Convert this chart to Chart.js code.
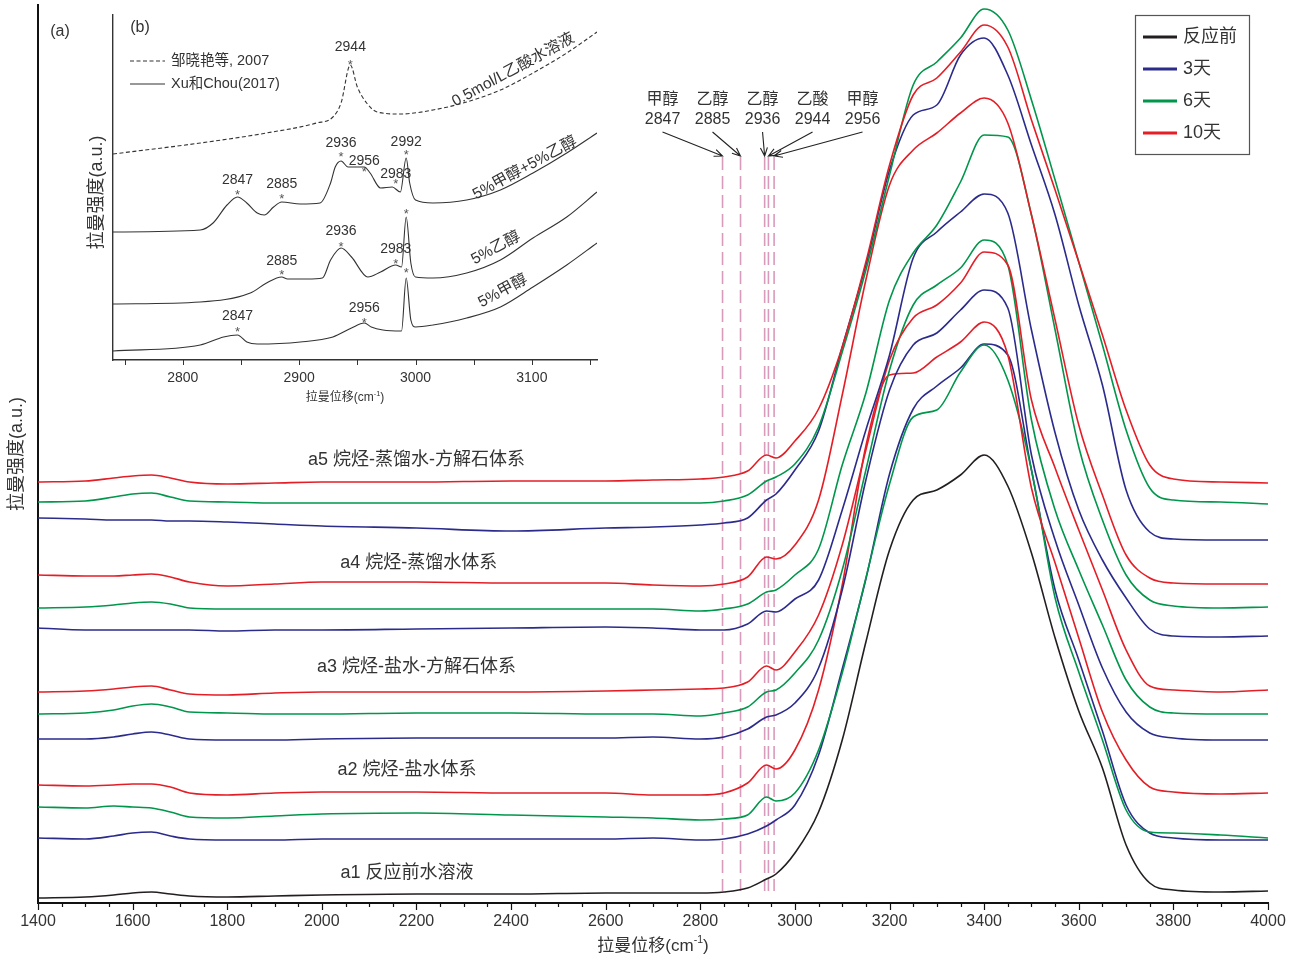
<!DOCTYPE html>
<html>
<head>
<meta charset="utf-8">
<script src="https://cdn.jsdelivr.net/npm/chart.js@4.4.1/dist/chart.umd.min.js"></script>
<style>
  html, body { margin: 0; padding: 0; background: #fff; }
  #wrap { position: relative; width: 1303px; height: 960px; }
  #main, #inset { position: absolute; left: 0; top: 0; }
</style>
</head>
<body>
<div id="wrap">
  <canvas id="main" width="1303" height="960"></canvas>
  <canvas id="inset" width="620" height="420"></canvas>
</div>
<script>
// ---- main panel (a): Raman shift grid and spectra (offset intensity, a.u.) ----
const wavenumbers = [1400, 1500, 1560, 1600, 1640, 1680, 1720, 1800, 1900, 2000, 2200, 2400, 2600, 2700, 2800, 2850, 2900, 2940, 2960, 3000, 3050, 3100, 3150, 3200, 3250, 3300, 3350, 3400, 3450, 3500, 3550, 3600, 3650, 3700, 3750, 3800, 3900, 4000]

const a1Before = [5, 6, 8, 10, 11, 9, 7, 6, 7, 8, 9, 9, 10, 10, 10, 11, 15, 24, 29, 50, 91, 163, 261, 353, 403, 413, 428, 448, 417, 350, 265, 192, 135, 58, 20, 13, 11, 12]
const a2Blue = [65, 64, 67, 70, 71, 67, 64, 63, 63, 64, 64, 64, 64, 65, 63, 64, 69, 77, 83, 98, 148, 234, 324, 429, 494, 517, 535, 559, 548, 433, 313, 243, 172, 98, 70, 65, 63, 63]
const a2Green = [96, 95, 97, 96, 95, 91, 86, 85, 87, 89, 90, 88, 86, 85, 83, 84, 88, 106, 102, 110, 153, 230, 325, 419, 486, 493, 531, 558, 523, 433, 305, 231, 163, 93, 71, 70, 68, 65]
const a2Red = [118, 117, 118, 119, 119, 116, 110, 108, 110, 111, 111, 110, 110, 108, 108, 110, 120, 138, 134, 153, 213, 318, 457, 528, 530, 546, 561, 581, 548, 415, 340, 265, 191, 143, 116, 111, 109, 110]
const a3Blue = [164, 164, 166, 169, 171, 168, 164, 163, 163, 164, 165, 165, 165, 166, 164, 166, 174, 186, 188, 200, 235, 313, 423, 513, 558, 570, 593, 613, 595, 448, 363, 298, 235, 191, 170, 165, 163, 163]
const a3Green = [189, 190, 193, 197, 199, 196, 191, 190, 189, 189, 190, 190, 189, 189, 187, 190, 196, 211, 213, 230, 263, 333, 433, 533, 598, 618, 635, 663, 638, 483, 393, 333, 278, 223, 196, 190, 189, 189]
const a3Red = [211, 212, 214, 216, 217, 213, 209, 208, 210, 211, 211, 211, 212, 213, 214, 215, 221, 237, 233, 251, 288, 358, 453, 543, 585, 598, 620, 651, 638, 503, 435, 373, 313, 253, 217, 213, 211, 213]
const a4Blue = [275, 273, 273, 273, 273, 273, 273, 272, 273, 273, 274, 275, 276, 275, 273, 273, 279, 292, 291, 304, 323, 393, 473, 548, 645, 671, 691, 709, 690, 573, 470, 393, 343, 305, 274, 267, 266, 267]
const a4Green = [295, 296, 298, 300, 301, 299, 295, 294, 294, 294, 294, 294, 294, 294, 292, 294, 299, 311, 313, 328, 354, 438, 510, 603, 650, 678, 721, 768, 766, 688, 573, 456, 383, 328, 303, 297, 295, 296]
const a4Red = [328, 327, 327, 328, 329, 326, 321, 317, 319, 321, 321, 320, 320, 318, 317, 319, 326, 346, 344, 358, 403, 508, 623, 718, 753, 770, 790, 805, 780, 688, 583, 478, 408, 348, 325, 320, 319, 319]
const a5Blue = [385, 384, 383, 383, 383, 382, 382, 381, 379, 377, 375, 372, 375, 376, 378, 380, 385, 403, 409, 433, 472, 556, 638, 733, 788, 798, 848, 865, 828, 758, 688, 598, 518, 413, 371, 364, 363, 363]
const a5Green = [401, 402, 406, 409, 410, 406, 402, 401, 400, 400, 400, 400, 400, 400, 400, 402, 408, 422, 426, 439, 476, 551, 633, 728, 818, 841, 865, 894, 873, 803, 723, 641, 558, 473, 415, 403, 401, 399]
const a5Red = [421, 422, 425, 427, 428, 425, 421, 419, 420, 421, 421, 422, 422, 423, 424, 426, 432, 448, 445, 462, 494, 556, 641, 738, 808, 825, 851, 878, 856, 783, 713, 641, 568, 493, 438, 424, 421, 420]

const groupLabels = ['a1 反应前水溶液', 'a2 烷烃-盐水体系', 'a3 烷烃-盐水-方解石体系', 'a4 烷烃-蒸馏水体系', 'a5 烷烃-蒸馏水-方解石体系']
const groupLabelW = [2180, 2180, 2200, 2205, 2200]
const groupLabelV = [30, 133, 236, 340, 443]

const markerW = [2847, 2885, 2936, 2944, 2956]
const markerName = ['甲醇', '乙醇', '乙醇', '乙酸', '甲醇']
const markerTopV = 746
const markerBottomV = 12

const legendLabels = ['反应前', '3天', '6天', '10天']

// ---- inset (b): reference spectra ----
const aceticX = [2740, 2815, 2872, 2915, 2929, 2936, 2944, 2950, 2958, 2967, 2987, 3015, 3044, 3073, 3101, 3130, 3156]
const aceticY = [206, 217, 227, 237, 243, 257, 295, 273, 257, 248, 246, 250, 258, 270, 287, 307, 328]
const mixX = [2740, 2815, 2826, 2838, 2847, 2855, 2864, 2870, 2878, 2885, 2901, 2918, 2927, 2931, 2936, 2942, 2956, 2961, 2970, 2980, 2987, 2992, 2995, 3000, 3015, 3044, 3073, 3101, 3130, 3156]
const mixY = [128, 130, 137, 155, 163, 157, 147, 145, 153, 158, 156, 157, 177, 193, 199, 193, 193, 187, 172, 173, 168, 202, 177, 160, 157, 160, 170, 187, 207, 227]
const ethanolX = [2740, 2815, 2858, 2872, 2885, 2890, 2907, 2920, 2927, 2936, 2945, 2959, 2970, 2983, 2988, 2992, 2996, 3000, 3015, 3044, 3073, 3101, 3130, 3156]
const ethanolY = [56, 58, 67, 77, 83, 81, 81, 82, 100, 112, 103, 83, 88, 95, 93, 143, 97, 83, 82, 87, 100, 122, 143, 168]
const methanolX = [2740, 2815, 2835, 2847, 2855, 2864, 2901, 2929, 2945, 2956, 2962, 2972, 2988, 2992, 2996, 3000, 3015, 3044, 3073, 3101, 3130, 3156]
const methanolY = [9, 15, 23, 25, 18, 16, 18, 23, 32, 37, 33, 30, 29, 82, 40, 33, 35, 42, 53, 73, 95, 117]

const peakW = [2944, 2847, 2885, 2936, 2956, 2983, 2992, 2885, 2936, 2983, 2992, 2847, 2956, 2992]
const peakStarV = [298, 168, 164, 206, 191, 179, 208, 88, 116, 99, 149, 31, 40, 90]
const peakLabelV = [313, 180, 176, 217, 199, 186, 218, 99, 129, 111, null, 44, 52, null]
const peakText = ['2944', '2847', '2885', '2936', '2956', '2983', '2992', '2885', '2936', '2983', '', '2847', '2956', '']

const curveNames = ['0.5mol/L乙酸水溶液', '5%甲醇+5%乙醇', '5%乙醇', '5%甲醇']
const curveNameW = [3084, 3094, 3069, 3075]
const curveNameV = [290, 192, 112, 69]

// ---- styles ----
const FONT = "'Liberation Sans', 'Noto Sans CJK SC', sans-serif"
const TEXT = '#333'
const BLACK = '#231f20'
const BLUE = '#2b2b8c'
const GREEN = '#00964b'
const RED = '#e41e26'

function text(ctx, str, x, y, size, opts = {}) {
  ctx.save()
  ctx.font = `${size}px ${opts.family || FONT}`
  ctx.fillStyle = opts.color || TEXT
  ctx.textAlign = opts.align || 'center'
  ctx.textBaseline = 'middle'
  ctx.translate(x, y)
  if (opts.rotate) ctx.rotate(opts.rotate)
  ctx.fillText(str, 0, 0)
  ctx.restore()
}

// title like 拉曼位移(cm⁻¹) with a real superscript
function unitTitle(ctx, x, y, size, rotate) {
  const parts = [['拉曼位移(cm', size, 0], ['-1', size * 0.62, -size * 0.35], [')', size, 0]]
  ctx.save()
  ctx.translate(x, y)
  if (rotate) ctx.rotate(rotate)
  let total = 0
  parts.forEach(p => { ctx.font = `${p[1]}px ${FONT}`; total += ctx.measureText(p[0]).width })
  let cx = -total / 2
  ctx.fillStyle = TEXT
  ctx.textBaseline = 'middle'
  ctx.textAlign = 'left'
  parts.forEach(p => {
    ctx.font = `${p[1]}px ${FONT}`
    ctx.fillText(p[0], cx, p[2])
    cx += ctx.measureText(p[0]).width
  })
  ctx.restore()
}

function arrow(ctx, x1, y1, x2, y2) {
  const a = Math.atan2(y2 - y1, x2 - x1)
  ctx.beginPath()
  ctx.moveTo(x1, y1)
  ctx.lineTo(x2, y2)
  ctx.moveTo(x2 - 9 * Math.cos(a - 0.4), y2 - 9 * Math.sin(a - 0.4))
  ctx.lineTo(x2, y2)
  ctx.lineTo(x2 - 9 * Math.cos(a + 0.4), y2 - 9 * Math.sin(a + 0.4))
  ctx.stroke()
}

const mainSeries = [
  [a5Red, RED], [a5Green, GREEN], [a5Blue, BLUE],
  [a4Red, RED], [a4Green, GREEN], [a4Blue, BLUE],
  [a3Red, RED], [a3Green, GREEN], [a3Blue, BLUE],
  [a2Red, RED], [a2Green, GREEN], [a2Blue, BLUE],
  [a1Before, BLACK]
]

const mainDecor = {
  id: 'mainDecor',
  beforeDatasetsDraw(chart) {
    const { ctx, scales: { x, y } } = chart
    ctx.save()
    ctx.strokeStyle = '#d99bbb'
    ctx.lineWidth = 1.6
    ctx.setLineDash([13, 6])
    markerW.forEach(w => {
      const px = x.getPixelForValue(w)
      ctx.beginPath()
      ctx.moveTo(px, y.getPixelForValue(markerTopV))
      ctx.lineTo(px, y.getPixelForValue(markerBottomV))
      ctx.stroke()
    })
    ctx.restore()
  },
  afterDraw(chart) {
    const { ctx, chartArea: area, scales: { x, y } } = chart

    // ticks, pointing out of the plot
    ctx.save()
    ctx.strokeStyle = '#111'
    ctx.lineWidth = 1.2
    for (let v = 1400; v <= 4000; v += 50) {
      const px = Math.round(x.getPixelForValue(v)) + 0.5
      const len = v % 200 === 0 ? 7 : 4
      ctx.beginPath()
      ctx.moveTo(px, area.bottom)
      ctx.lineTo(px, area.bottom + len)
      ctx.stroke()
    }
    ctx.restore()

    unitTitle(ctx, (area.left + area.right) / 2, 946, 17)
    text(ctx, '拉曼强度(a.u.)', 17, (area.top + area.bottom) / 2, 18, { rotate: -Math.PI / 2 })
    text(ctx, '(a)', area.left + 22, area.top + 27, 16)

    groupLabels.forEach((s, i) => {
      text(ctx, s, x.getPixelForValue(groupLabelW[i]), y.getPixelForValue(groupLabelV[i]), 18)
    })

    // peak assignments with arrows
    const topY = y.getPixelForValue(markerTopV)
    const firstX = x.getPixelForValue(markerW[0]) - 60
    ctx.save()
    ctx.strokeStyle = '#222'
    ctx.lineWidth = 1.1
    markerW.forEach((w, i) => {
      const cx = firstX + i * 50
      text(ctx, markerName[i], cx, topY - 57, 16)
      text(ctx, String(w), cx, topY - 37, 16)
      arrow(ctx, cx, topY - 25, x.getPixelForValue(w), topY - 1)
    })
    ctx.restore()

    // legend box
    const lx = 1135, ly = 15
    ctx.save()
    ctx.fillStyle = '#fff'
    ctx.fillRect(lx, ly, 114, 139)
    ctx.strokeStyle = '#555'
    ctx.lineWidth = 1.2
    ctx.strokeRect(lx + 0.5, ly + 0.5, 114, 139)
    const legendColors = [BLACK, BLUE, GREEN, RED]
    legendLabels.forEach((s, i) => {
      const yy = ly + 22 + i * 32
      ctx.strokeStyle = legendColors[i]
      ctx.lineWidth = 3
      ctx.beginPath()
      ctx.moveTo(lx + 8, yy)
      ctx.lineTo(lx + 42, yy)
      ctx.stroke()
      text(ctx, s, lx + 48, yy, 18, { align: 'left' })
    })
    ctx.restore()
  }
}

new Chart(document.getElementById('main'), {
  type: 'line',
  data: {
    datasets: mainSeries.map(([vals, color]) => ({
      data: vals.map((v, i) => ({ x: wavenumbers[i], y: v })),
      borderColor: color,
      borderWidth: 1.6,
      pointRadius: 0,
      fill: false,
      cubicInterpolationMode: 'monotone'
    }))
  },
  options: {
    responsive: false,
    animation: false,
    layout: { padding: { top: 5, right: 35, left: 0, bottom: 0 } },
    plugins: { legend: { display: false }, tooltip: { enabled: false } },
    scales: {
      x: {
        type: 'linear',
        min: 1400,
        max: 4000,
        afterFit: s => { s.height = 57 },
        grid: { display: true, drawOnChartArea: false, drawTicks: true, tickLength: 7, color: 'rgba(0,0,0,0)', tickColor: 'rgba(0,0,0,0)' },
        border: { display: true, color: '#111', width: 2 },
        ticks: {
          stepSize: 50,
          autoSkip: false,
          maxRotation: 0,
          padding: 2,
          color: TEXT,
          font: { family: FONT, size: 16 },
          callback: v => (v % 200 === 0 ? v : '')
        }
      },
      y: {
        min: 0,
        max: 898,
        afterFit: s => { s.width = 38 },
        grid: { display: true, drawOnChartArea: false, drawTicks: false, color: 'rgba(0,0,0,0)' },
        border: { display: true, color: '#111', width: 2 },
        ticks: { display: false }
      }
    }
  },
  plugins: [mainDecor]
})

// ---- inset chart ----
const insetDecor = {
  id: 'insetDecor',
  afterDraw(chart) {
    const { ctx, chartArea: area, scales: { x, y } } = chart

    ctx.save()
    ctx.strokeStyle = '#333'
    ctx.lineWidth = 1
    for (let v = 2750; v <= 3150; v += 50) {
      const px = Math.round(x.getPixelForValue(v)) + 0.5
      ctx.beginPath()
      ctx.moveTo(px, area.bottom)
      ctx.lineTo(px, area.bottom + 5)
      ctx.stroke()
    }
    ctx.restore()

    unitTitle(ctx, (area.left + area.right) / 2 - 10, 398, 12)
    text(ctx, '拉曼强度(a.u.)', 97, (area.top + area.bottom) / 2 + 5, 18, { rotate: -Math.PI / 2 })
    text(ctx, '(b)', area.left + 27, area.top + 13, 16)

    // legend
    ctx.save()
    ctx.strokeStyle = '#333'
    ctx.lineWidth = 1.1
    ctx.setLineDash([4, 2.5])
    ctx.beginPath()
    ctx.moveTo(area.left + 17, area.top + 46)
    ctx.lineTo(area.left + 52, area.top + 46)
    ctx.stroke()
    ctx.setLineDash([])
    ctx.beginPath()
    ctx.moveTo(area.left + 17, area.top + 69)
    ctx.lineTo(area.left + 52, area.top + 69)
    ctx.stroke()
    ctx.restore()
    text(ctx, '邹晓艳等, 2007', area.left + 58, area.top + 46, 14.5, { align: 'left' })
    text(ctx, 'Xu和Chou(2017)', area.left + 58, area.top + 69, 14.5, { align: 'left' })

    // peak stars and numbers
    peakW.forEach((w, i) => {
      const px = x.getPixelForValue(w)
      text(ctx, '*', px, y.getPixelForValue(peakStarV[i]) + 3, 13, { color: '#555' })
      if (peakLabelV[i] !== null) text(ctx, peakText[i], px, y.getPixelForValue(peakLabelV[i]), 14)
    })

    curveNames.forEach((s, i) => {
      text(ctx, s, x.getPixelForValue(curveNameW[i]), y.getPixelForValue(curveNameV[i]), 15.5, { rotate: -0.5 })
    })
  }
}

const insetLine = (xs, ys, dash) => ({
  data: xs.map((v, i) => ({ x: v, y: ys[i] })),
  borderColor: '#333',
  borderWidth: 1.1,
  borderDash: dash,
  pointRadius: 0,
  fill: false,
  cubicInterpolationMode: 'monotone'
})

new Chart(document.getElementById('inset'), {
  type: 'line',
  data: {
    datasets: [
      insetLine(aceticX, aceticY, [4, 2.5]),
      insetLine(mixX, mixY, []),
      insetLine(ethanolX, ethanolY, []),
      insetLine(methanolX, methanolY, [])
    ]
  },
  options: {
    responsive: false,
    animation: false,
    layout: { padding: { top: 15, right: 23, left: 0, bottom: 0 } },
    plugins: { legend: { display: false }, tooltip: { enabled: false } },
    scales: {
      x: {
        type: 'linear',
        min: 2740,
        max: 3156,
        afterFit: s => { s.height = 60 },
        grid: { display: true, drawOnChartArea: false, drawTicks: true, tickLength: 5, color: 'rgba(0,0,0,0)', tickColor: 'rgba(0,0,0,0)' },
        border: { display: true, color: '#333', width: 1.4 },
        ticks: {
          stepSize: 50,
          autoSkip: false,
          maxRotation: 0,
          padding: 5,
          color: TEXT,
          font: { family: FONT, size: 14 },
          callback: v => (v % 100 === 0 ? v : '')
        }
      },
      y: {
        min: 0,
        max: 345,
        afterFit: s => { s.width = 113 },
        grid: { display: true, drawOnChartArea: false, drawTicks: false, color: 'rgba(0,0,0,0)' },
        border: { display: true, color: '#333', width: 1.4 },
        ticks: { display: false }
      }
    }
  },
  plugins: [insetDecor]
})
</script>
</body>
</html>
